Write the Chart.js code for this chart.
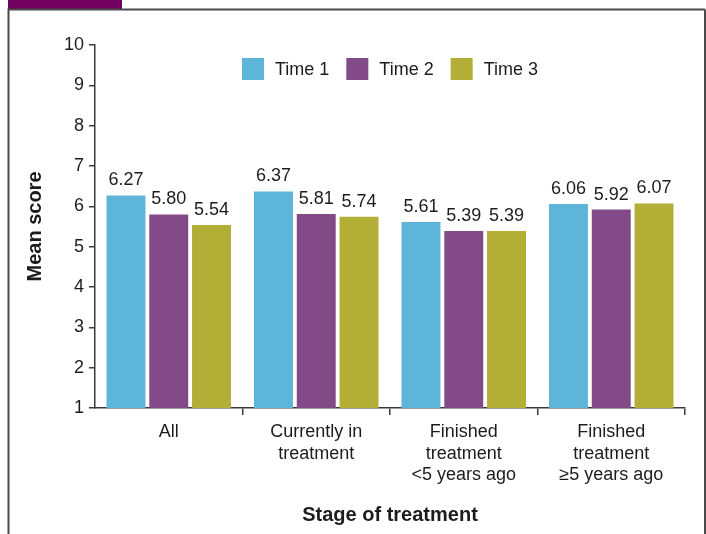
<!DOCTYPE html>
<html>
<head>
<meta charset="utf-8">
<script src="https://cdn.jsdelivr.net/npm/chart.js@4.4.1/dist/chart.umd.min.js"></script>
<style>
  html, body { margin: 0; padding: 0; background: #fff; }
  canvas { display: block; }
</style>
</head>
<body>
<canvas id="grafico" width="706" height="534"></canvas>
<script>
var categories = [["All"], ["Currently in", "treatment"], ["Finished", "treatment", "<5 years ago"], ["Finished", "treatment", "≥5 years ago"]];
var seriesNames = ["Time 1", "Time 2", "Time 3"];
var time1 = [6.27, 6.37, 5.61, 6.06];
var time2 = [5.80, 5.81, 5.39, 5.92];
var time3 = [5.54, 5.74, 5.39, 6.07];
var yTicks = [1, 2, 3, 4, 5, 6, 7, 8, 9, 10];

var font = "'Liberation Sans', Arial, sans-serif";
var ink = "#1f1b1c";
var colors = ["#5db5d9", "#834a88", "#b3ae35"];

Chart.defaults.font.family = font;
Chart.defaults.color = ink;

// marco de la figura (recortado arriba)
var framePlugin = {
  id: "frame",
  beforeDraw: function (chart) {
    var ctx = chart.ctx;
    ctx.save();
    ctx.fillStyle = "#fff";
    ctx.fillRect(0, 0, chart.width, chart.height);
    ctx.fillStyle = "#72005f";
    ctx.fillRect(8, 0, 114, 9);
    ctx.strokeStyle = "#4a4a4a";
    ctx.lineWidth = 2;
    ctx.beginPath();
    ctx.moveTo(8.5, chart.height);
    ctx.lineTo(8.5, 9.5);
    ctx.lineTo(705, 9.5);
    ctx.moveTo(705, 9.5);
    ctx.lineTo(705, chart.height);
    ctx.stroke();
    ctx.restore();
  }
};

// valores encima de las barras
var valuePlugin = {
  id: "values",
  afterDatasetsDraw: function (chart) {
    var ctx = chart.ctx;
    ctx.save();
    ctx.font = "18px " + font;
    ctx.fillStyle = ink;
    ctx.textAlign = "center";
    ctx.textBaseline = "bottom";
    chart.data.datasets.forEach(function (ds, i) {
      chart.getDatasetMeta(i).data.forEach(function (bar, j) {
        ctx.fillText(ds.data[j].toFixed(2), bar.x, bar.y - 6);
      });
    });
    ctx.restore();
  }
};

// leyenda dentro del area del grafico
var legendPlugin = {
  id: "innerLegend",
  afterDraw: function (chart) {
    var ctx = chart.ctx;
    var box = 22, gap = 11, spacing = 17;
    ctx.save();
    ctx.font = "18px " + font;
    var widths = chart.data.datasets.map(function (ds) {
      return box + gap + ctx.measureText(ds.label).width;
    });
    var total = widths.reduce(function (a, b) { return a + b; }, 0) + spacing * (widths.length - 1);
    var x = (chart.chartArea.left + chart.chartArea.right) / 2 - total / 2;
    var y = 58;
    ctx.textBaseline = "middle";
    ctx.textAlign = "left";
    chart.data.datasets.forEach(function (ds, i) {
      ctx.fillStyle = ds.backgroundColor;
      ctx.fillRect(x, y, box, box);
      ctx.fillStyle = ink;
      ctx.fillText(ds.label, x + box + gap, y + box / 2 + 1);
      x += widths[i] + spacing;
    });
    ctx.restore();
  }
};

var data = {
  labels: categories,
  datasets: [
    { label: seriesNames[0], data: time1, backgroundColor: colors[0] },
    { label: seriesNames[1], data: time2, backgroundColor: colors[1] },
    { label: seriesNames[2], data: time3, backgroundColor: colors[2] }
  ]
};

var config = {
  type: "bar",
  data: data,
  options: {
    responsive: false,
    devicePixelRatio: 1,
    animation: false,
    layout: { padding: { left: 0, right: 21, top: 45, bottom: 0 } },
    datasets: { bar: { categoryPercentage: 0.87, barPercentage: 0.91 } },
    plugins: {
      legend: { display: false },
      tooltip: { enabled: false }
    },
    scales: {
      x: {
        afterFit: function (scale) { scale.height = 126; },
        grid: {
          drawOnChartArea: false,
          tickLength: 7,
          color: function (c) { return c.index === 0 ? "rgba(0,0,0,0)" : "#3a3a3a"; },
          lineWidth: 1.5
        },
        border: { color: "#3a3a3a", width: 1.5 },
        ticks: { font: { size: 18, lineHeight: 1.17 }, color: ink, padding: 7, maxRotation: 0, autoSkip: false },
        title: {
          display: true,
          text: "Stage of treatment",
          font: { size: 20, weight: "bold" },
          color: ink,
          padding: { top: 0, bottom: 7 }
        }
      },
      y: {
        min: 1,
        max: 10,
        afterFit: function (scale) { scale.width = 95; },
        afterBuildTicks: function (scale) {
          scale.ticks = yTicks.map(function (v) { return { value: v }; });
        },
        grid: { drawOnChartArea: false, tickLength: 6, color: "#3a3a3a", lineWidth: 1.5 },
        border: { color: "#3a3a3a", width: 1.5 },
        ticks: { font: { size: 18 }, color: ink, padding: 5 },
        title: {
          display: true,
          text: "Mean score",
          font: { size: 20, weight: "bold" },
          color: ink,
          padding: { top: 23, bottom: 0 }
        }
      }
    }
  },
  plugins: [framePlugin, valuePlugin, legendPlugin]
};

var grafico = new Chart(document.getElementById("grafico"), config);
</script>
</body>
</html>
